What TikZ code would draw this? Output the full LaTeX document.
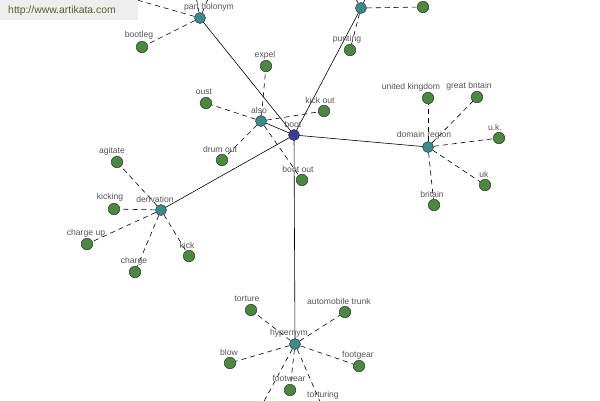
\documentclass[tikz,border=0pt]{standalone}
\usepackage{fontspec}
\setmainfont{Liberation Sans}
\usetikzlibrary{backgrounds}
\definecolor{leafg}{HTML}{4A8A3E}
\definecolor{relc}{HTML}{3A8C8C}
\definecolor{rootc}{HTML}{3C3C96}
\definecolor{labc}{HTML}{555555}
\definecolor{wmbg}{HTML}{EEEEEE}
\definecolor{wmtx}{HTML}{4F6228}
\tikzset{
  leaf/.style={circle,draw=black!80,line width=0.5pt,fill=leafg,minimum size=11.5pt,inner sep=0pt},
  rel/.style={circle,draw=black!80,line width=0.5pt,fill=relc,minimum size=11pt,inner sep=0pt},
  root/.style={circle,draw=black!80,line width=0.5pt,fill=rootc,minimum size=11pt,inner sep=0pt},
  lab/.style={text=labc,font=\fontsize{8.6}{9}\selectfont,inner sep=0pt},
  solidl/.style={draw=black,line width=0.6pt},
  dashl/.style={draw=black,line width=0.6pt,dash pattern=on 5pt off 4pt},
}
\begin{document}
\begin{tikzpicture}[x=1pt,y=-1pt]
\useasboundingbox (0,0) rectangle (600,400);
\clip (0,0) rectangle (600,400);
% nodes
\node[root] (boot) at (294,135) {};
\node[rel] (ph) at (200,18) {};
\node[rel] (top) at (361,8) {};
\node[leaf] (topleaf) at (423,7) {};
\node[leaf] (bootleg) at (142,47) {};
\node[leaf] (expel) at (266,66) {};
\node[leaf] (oust) at (206,103) {};
\node[rel] (also) at (261,121) {};
\node[leaf] (kickout) at (324,111) {};
\node[leaf] (drumout) at (222,160) {};
\node[leaf] (bootout) at (302,180) {};
\node[leaf] (punting) at (350,50) {};
\node[rel] (dom) at (428,147) {};
\node[leaf] (ukd) at (428,98) {};
\node[leaf] (gb) at (477,97) {};
\node[leaf] (ukdot) at (499,138) {};
\node[leaf] (uk) at (485,185) {};
\node[leaf] (britain) at (434,205) {};
\node[rel] (der) at (161,210) {};
\node[leaf] (agitate) at (117,162) {};
\node[leaf] (kicking) at (114,209) {};
\node[leaf] (chargeup) at (87,244) {};
\node[leaf] (charge) at (135,272) {};
\node[leaf] (kick) at (189,256) {};
\node[rel] (hyp) at (295,344) {};
\node[leaf] (torture) at (251,310) {};
\node[leaf] (trunk) at (345,312) {};
\node[leaf] (blow) at (230,363) {};
\node[leaf] (footgear) at (359,366) {};
\node[leaf] (footwear) at (290,390) {};
\node[leaf] (torturing) at (325,413) {};
\coordinate (ph1) at (95,-12);
\coordinate (ph2) at (192,-25);
\coordinate (ph3) at (218,-25);
\coordinate (top1) at (345,-20);
\coordinate (top2) at (374,-20);
\coordinate (hyp1) at (255,418);
% labels
\node[lab] (lboot) at (293,124) {boot};
\node[lab] (lph) at (209,7) {part holonym};
\node[lab] (lbootleg) at (139,35) {bootleg};
\node[lab] (lexpel) at (265,55) {expel};
\node[lab] (loust) at (204,92) {oust};
\node[lab] (lalso) at (259,110) {also};
\node[lab] (lkickout) at (320,100) {kick out};
\node[lab] (ldrumout) at (220,149) {drum out};
\node[lab] (lbootout) at (298,169) {boot out};
\node[lab] (lpunting) at (347,39) {punting};
\node[lab] (ldom) at (424,135) {domain region};
\node[lab] (lukd) at (411,87) {united kingdom};
\node[lab] (lgb) at (469,86) {great britain};
\node[lab] (lukdot) at (495,127) {u.k.};
\node[lab] (luk) at (484,174) {uk};
\node[lab] (lbritain) at (432,194) {britain};
\node[lab] (lder) at (155,199) {derivation};
\node[lab] (lagitate) at (112,151) {agitate};
\node[lab] (lkicking) at (110,197) {kicking};
\node[lab] (lchargeup) at (86,233) {charge up};
\node[lab] (lcharge) at (134,261) {charge};
\node[lab] (lkick) at (187,245) {kick};
\node[lab] (lhyp) at (289,333) {hypernym};
\node[lab] (ltorture) at (247,299) {torture};
\node[lab] (ltrunk) at (339,301) {automobile trunk};
\node[lab] (lblow) at (229,352) {blow};
\node[lab] (lfootgear) at (358,355) {footgear};
\node[lab] (lfootwear) at (289,378) {footwear};
\node[lab] (ltorturing) at (323,395) {torturing};
% watermark
\node[fill=wmbg,minimum width=138pt,minimum height=20pt,inner sep=0pt] (wm) at (69,10) {};
\node[text=wmtx,font=\fontsize{10.4}{11}\selectfont] (wmt) at (62,11) {http://www.artikata.com};
% edges
\begin{scope}[on background layer]
\draw[solidl] (boot.center) -- (ph.center);
\draw[solidl] (boot.center) -- (top.center);
\draw[solidl] (boot.center) -- (also.center);
\draw[solidl] (boot.center) -- (dom.center);
\draw[solidl] (boot.center) -- (der.center);
\draw[solidl] (boot.center) -- (hyp.center);
\draw[dashl] (ph) -- (bootleg);
\draw[dashl] (ph) -- (ph1);
\draw[dashl] (ph) -- (ph2);
\draw[dashl] (ph) -- (ph3);
\draw[dashl] (top) -- (topleaf);
\draw[dashl] (top) -- (punting);
\draw[dashl] (top) -- (top1);
\draw[dashl] (top) -- (top2);
\draw[dashl] (also) -- (expel);
\draw[dashl] (also) -- (oust);
\draw[dashl] (also) -- (kickout);
\draw[dashl] (also) -- (drumout);
\draw[dashl] (also) -- (bootout);
\draw[dashl] (dom) -- (ukd);
\draw[dashl] (dom) -- (gb);
\draw[dashl] (dom) -- (ukdot);
\draw[dashl] (dom) -- (uk);
\draw[dashl] (dom) -- (britain);
\draw[dashl] (der) -- (agitate);
\draw[dashl] (der) -- (kicking);
\draw[dashl] (der) -- (chargeup);
\draw[dashl] (der) -- (charge);
\draw[dashl] (der) -- (kick);
\draw[dashl] (hyp) -- (torture);
\draw[dashl] (hyp) -- (trunk);
\draw[dashl] (hyp) -- (blow);
\draw[dashl] (hyp) -- (footgear);
\draw[dashl] (hyp) -- (footwear);
\draw[dashl] (hyp) -- (torturing);
\draw[dashl] (hyp) -- (hyp1);
\end{scope}
\end{tikzpicture}
\end{document}
